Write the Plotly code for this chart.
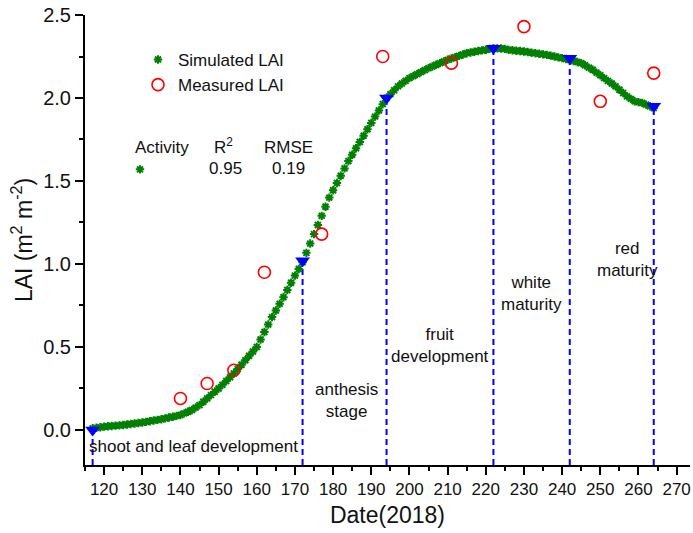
import plotly.graph_objects as go

# ---- Data ----
sim_day = list(range(117, 265))
sim_lai = [
    0.010, 0.013, 0.016, 0.020, 0.022, 0.024, 0.026, 0.028, 0.030, 0.033,  # 117-126
    0.036, 0.039, 0.042, 0.045, 0.049, 0.053, 0.057, 0.061, 0.065, 0.070,  # 127-136
    0.075, 0.080, 0.085, 0.090, 0.100, 0.110, 0.120, 0.135, 0.150, 0.170,  # 137-146
    0.190, 0.210, 0.230, 0.250, 0.272, 0.295, 0.318, 0.340, 0.367, 0.393,  # 147-156
    0.420, 0.447, 0.473, 0.500, 0.545, 0.590, 0.635, 0.680, 0.720, 0.760,  # 157-166
    0.800, 0.843, 0.887, 0.930, 0.970, 1.010, 1.067, 1.123, 1.180, 1.235,  # 167-176
    1.290, 1.345, 1.400, 1.444, 1.488, 1.532, 1.576, 1.620, 1.658, 1.697,  # 177-186
    1.735, 1.773, 1.812, 1.850, 1.888, 1.925, 1.963, 2.000, 2.023, 2.047,  # 187-196
    2.070, 2.087, 2.103, 2.120, 2.132, 2.144, 2.156, 2.168, 2.180, 2.190,  # 197-206
    2.200, 2.210, 2.220, 2.230, 2.238, 2.246, 2.254, 2.262, 2.270, 2.274,  # 207-216
    2.279, 2.283, 2.287, 2.291, 2.296, 2.300, 2.299, 2.298, 2.296, 2.290,  # 217-226
    2.288, 2.285, 2.283, 2.280, 2.277, 2.273, 2.270, 2.267, 2.263, 2.260,  # 227-236
    2.255, 2.250, 2.245, 2.240, 2.235, 2.230, 2.223, 2.217, 2.210, 2.197,  # 237-246
    2.183, 2.170, 2.153, 2.137, 2.120, 2.103, 2.087, 2.070, 2.050, 2.030,  # 247-256
    2.010, 1.995, 1.980, 1.975, 1.970, 1.960, 1.950, 1.940,                # 257-264
]

meas_day = [140, 147, 154, 162, 177, 193, 211, 230, 250, 264]
meas_lai = [0.19, 0.28, 0.36, 0.95, 1.18, 2.25, 2.21, 2.43, 1.98, 2.15]

stage_day = [117, 172, 194, 222, 242, 264]
stage_lai = [0.00, 1.02, 2.00, 2.30, 2.24, 1.95]

stage_labels = ["shoot and leaf development", "anthesis<br>stage",
                "fruit<br>development", "white<br>maturity", "red<br>maturity"]
stage_label_x = [143.5, 183.5, 208.0, 232.0, 257.0]
stage_label_y = [-0.10, 0.175, 0.51, 0.82, 1.03]

x_ticks = list(range(120, 271, 10))
y_ticks = [0.0, 0.5, 1.0, 1.5, 2.0, 2.5]
y_ticktext = ["0.0", "0.5", "1.0", "1.5", "2.0", "2.5"]
x_range = [115, 273.5]
y_range = [-0.211, 2.5]

# stats block content
stats_header = ["Activity", "R<sup>2</sup>", "RMSE"]
stats_values = ["0.95", "0.19"]
stats_marker_x = [129.4]
stats_marker_y = [1.57]

FONT = "Arial, Liberation Sans, sans-serif"
GREEN = "#008000"
BLUE = "#0000FF"
RED = "#FF0000"
TXT = "#111111"

# plot-area geometry (pixels) used to place the paper-referenced text
L, R, T, B, W, H = 85, 3, 15, 68, 693, 533
PW, PH = W - L - R, H - T - B


def px_to_paper(px, py):
    return (px - L) / PW, (H - B - py) / PH


fig = go.Figure()

# dashed stage lines from axis bottom up to each stage marker
for d, v in zip(stage_day, stage_lai):
    fig.add_trace(go.Scatter(
        x=[d, d], y=[y_range[0], v], mode="lines",
        line=dict(color=BLUE, width=2, dash="6px,4px"),
        showlegend=False, hoverinfo="skip"))

fig.add_trace(go.Scatter(
    x=sim_day, y=sim_lai, mode="markers", name="Simulated LAI",
    marker=dict(symbol="asterisk-open", size=7, color=GREEN,
                line=dict(color=GREEN, width=2))))

fig.add_trace(go.Scatter(
    x=meas_day, y=meas_lai, mode="markers", name="Measured LAI",
    marker=dict(symbol="circle-open", size=12, color=RED,
                line=dict(color=RED, width=1.6))))

fig.add_trace(go.Scatter(
    x=stage_day, y=stage_lai, mode="markers", showlegend=False,
    marker=dict(symbol="triangle-down", size=13, color=BLUE,
                line=dict(width=0))))

# asterisk in the stats block
fig.add_trace(go.Scatter(
    x=stats_marker_x, y=stats_marker_y, mode="markers", showlegend=False,
    marker=dict(symbol="asterisk-open", size=7, color=GREEN,
                line=dict(color=GREEN, width=2)), hoverinfo="skip"))

annotations = []
for t, x, y in zip(stage_labels, stage_label_x, stage_label_y):
    annotations.append(dict(x=x, y=y, xref="x", yref="y", text=t,
                            showarrow=False, xanchor="center", yanchor="middle",
                            font=dict(size=17, color=TXT, family=FONT),
                            align="center"))

# stats text: bottoms aligned per row so the superscript does not shift R
hdr_pos = [(162, 159), (223, 159), (288, 159)]
for t, (px, py) in zip(stats_header, hdr_pos):
    xp, yp = px_to_paper(px, py)
    annotations.append(dict(x=xp, y=yp, xref="paper", yref="paper", text=t,
                            showarrow=False, xanchor="center", yanchor="bottom",
                            font=dict(size=17, color=TXT, family=FONT)))
val_pos = [(225, 180), (288, 180)]
for t, (px, py) in zip(stats_values, val_pos):
    xp, yp = px_to_paper(px, py)
    annotations.append(dict(x=xp, y=yp, xref="paper", yref="paper", text=t,
                            showarrow=False, xanchor="center", yanchor="bottom",
                            font=dict(size=17, color=TXT, family=FONT)))

lx, ly = px_to_paper(138, 42)

fig.update_layout(
    width=W, height=H,
    margin=dict(l=L, r=R, t=T, b=B),
    paper_bgcolor="white", plot_bgcolor="white",
    font=dict(family=FONT, color=TXT),
    showlegend=True,
    legend=dict(x=lx, y=ly, xanchor="left", yanchor="top",
                bgcolor="rgba(0,0,0,0)", font=dict(size=17, family=FONT, color=TXT),
                itemsizing="trace", tracegroupgap=0),
    annotations=annotations,
    xaxis=dict(range=x_range, tickvals=x_ticks, ticks="outside", ticklen=8,
               tickwidth=1.5, tickcolor="black", showline=True, linecolor="black",
               linewidth=2, showgrid=False, zeroline=False,
               tickfont=dict(size=17, family=FONT, color=TXT),
               minor=dict(dtick=5, tick0=115, ticks="outside", ticklen=4,
                          tickwidth=1.5, tickcolor="black", showgrid=False),
               title=dict(text="Date(2018)", font=dict(size=23, family=FONT, color=TXT),
                          standoff=8)),
    yaxis=dict(range=y_range, tickvals=y_ticks, ticktext=y_ticktext,
               ticks="outside", ticklen=8, tickwidth=1.5, tickcolor="black",
               showline=True, linecolor="black", linewidth=2, showgrid=False,
               zeroline=False, tickfont=dict(size=20, family=FONT, color=TXT),
               minor=dict(dtick=0.25, tick0=0, ticks="outside", ticklen=4,
                          tickwidth=1.5, tickcolor="black", showgrid=False),
               title=dict(text="LAI (m<sup>2</sup> m<sup>-2</sup>)",
                          font=dict(size=23, family=FONT, color=TXT), standoff=4)),
)

fig.write_html("out.html")
